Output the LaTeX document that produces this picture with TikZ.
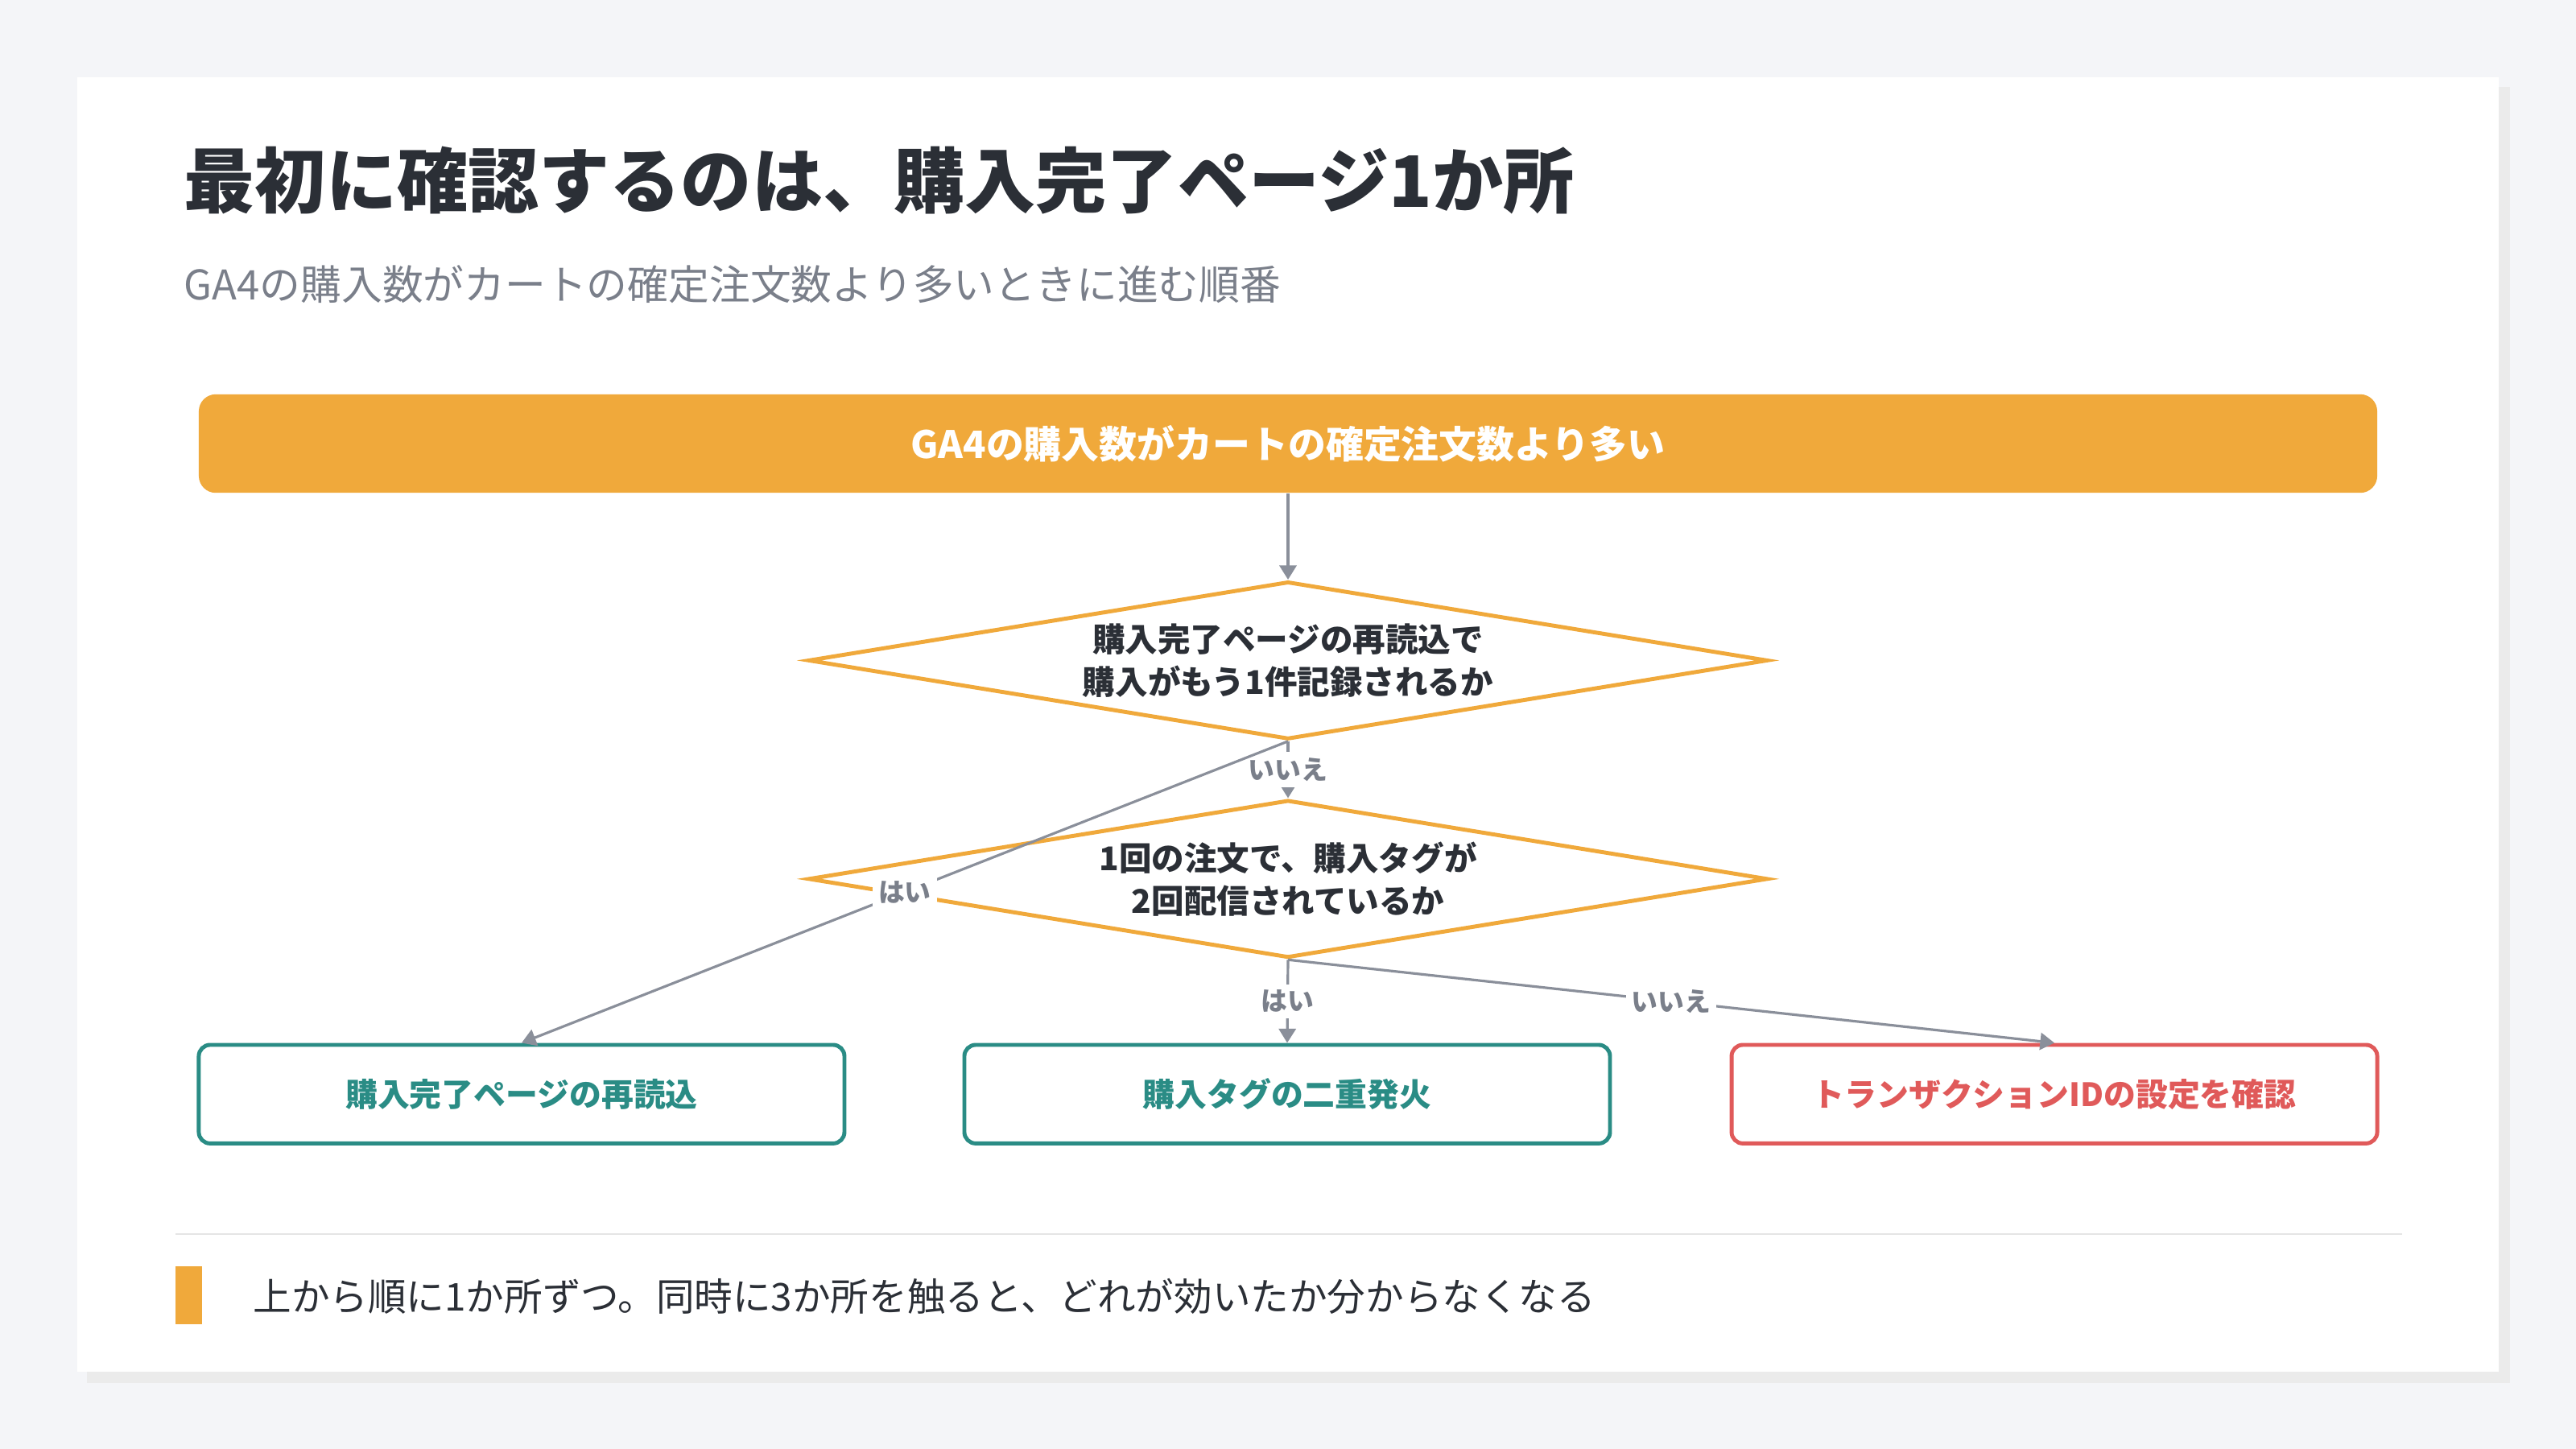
\documentclass[tikz,border=0pt]{standalone}
\usepackage{fontspec}
\setmainfont{Noto Sans CJK JP}
\usepackage{tikz}
\usetikzlibrary{positioning,calc,shapes.geometric,arrows.meta}
\definecolor{bgGray}{HTML}{F4F5F8}
\definecolor{accOrange}{HTML}{F0A93B}
\definecolor{accTeal}{HTML}{2A8C85}
\definecolor{accRed}{HTML}{E05A5A}
\definecolor{txtDark}{HTML}{2B2F36}
\definecolor{txtGray}{HTML}{7A7F8A}
\definecolor{lnGray}{HTML}{8A8F9A}
\tikzset{
  decision/.style={diamond, draw=accOrange, line width=1.4pt, fill=white, aspect=6.08,
    minimum width=584\pxu, minimum height=96\pxu, inner sep=0pt, align=center,
    font=\fontsize{11.5}{15}\selectfont\bfseries, text=txtDark},
  result/.style={draw=#1, line width=1.4pt, rounded corners=4pt, fill=white,
    minimum width=393\pxu, minimum height=60\pxu, inner sep=0pt,
    font=\fontsize{11.3}{14}\selectfont\bfseries, text=#1},
  flow/.style={-{Triangle[length=5pt,width=6pt]}, draw=lnGray, line width=0.9pt},
  tag/.style={fill=white, inner sep=2pt, text=txtGray, font=\fontsize{9.3}{11}\selectfont\bfseries}
}
\newlength{\pxu}
\setlength{\pxu}{0.5787pt}
\begin{document}
\begin{tikzpicture}[x=\pxu, y=-\pxu]
\useasboundingbox (0,0) rectangle (1568,882);
\fill[bgGray] (0,0) rectangle (1568,882);
% card
\fill[black!8] (53,53) rectangle (1528,842);
\fill[white] (47,47) rectangle (1521,835);

\node[anchor=west, text=txtDark, font=\fontsize{25}{30}\selectfont\bfseries] (title) at (106,110) {最初に確認するのは、購入完了ページ1か所};
\node[anchor=west, text=txtGray, font=\fontsize{14.4}{18}\selectfont] (subtitle) at (106,173) {GA4の購入数がカートの確定注文数より多いときに進む順番};

\node[fill=accOrange, rounded corners=6pt, minimum width=1326\pxu, minimum height=60\pxu, inner sep=0pt,
  text=white, font=\fontsize{13.3}{16}\selectfont\bfseries] (start) at (784,270) {GA4の購入数がカートの確定注文数より多い};

\node[decision] (q1) at (784,402) {購入完了ページの再読込で\\購入がもう1件記録されるか};
\node[decision] (q2) at (784,535) {1回の注文で、購入タグが\\2回配信されているか};

\node[result=accTeal] (reload) at (317.5,666) {購入完了ページの再読込};
\node[result=accTeal] (double) at (783.5,666) {購入タグの二重発火};
\node[result=accRed] (txid) at (1250.5,666) {トランザクションIDの設定を確認};

\draw[flow] (start) -- (q1);
\draw[flow] (q1.south) -- node[tag] {いいえ} (q2.north);
\draw[flow] (q1.south) -- node[tag] {はい} (reload.north);
\draw[flow] (q2.south) -- node[tag] {はい} (double.north);
\draw[flow] (q2.south) -- node[tag] {いいえ} (txid.north);

% footer note
\draw[black!10, line width=0.6pt] (107,751) -- (1462,751);
\fill[accOrange] (107,771) rectangle (123,806);
\node[anchor=west, text=txtDark, font=\fontsize{13.5}{16}\selectfont] (note) at (148,789) {上から順に1か所ずつ。同時に3か所を触ると、どれが効いたか分からなくなる};
\end{tikzpicture}
\end{document}
